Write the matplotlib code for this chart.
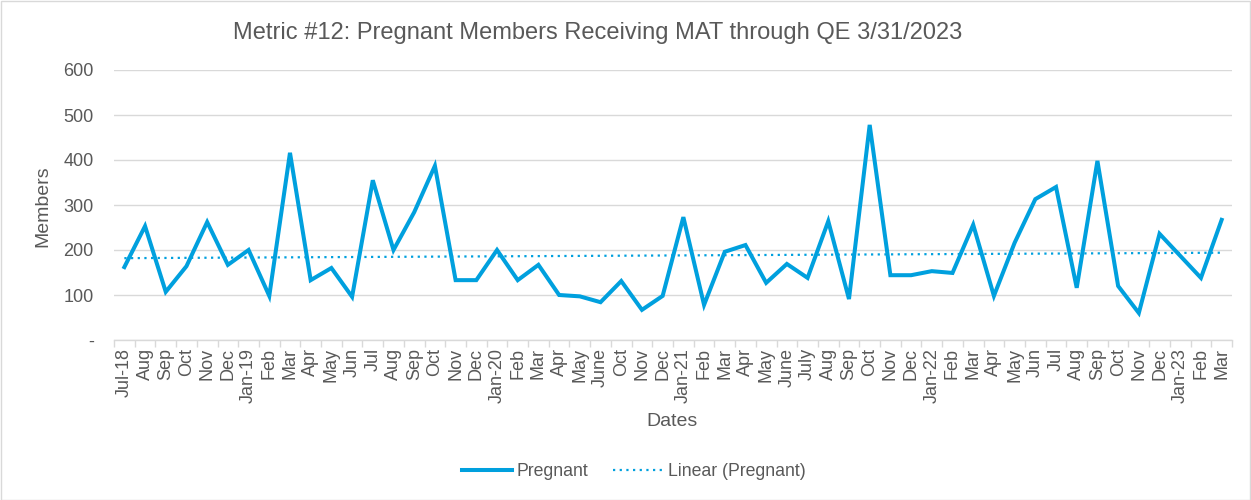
import numpy as np
import matplotlib
matplotlib.use("Agg")
import matplotlib.pyplot as plt
from matplotlib.patches import Rectangle

plt.rcParams['font.family'] = ['Liberation Sans', 'DejaVu Sans']

labels = ["Jul-18", "Aug", "Sep", "Oct", "Nov", "Dec", "Jan-19", "Feb", "Mar", "Apr",
          "May", "Jun", "Jul", "Aug", "Sep", "Oct", "Nov", "Dec", "Jan-20", "Feb",
          "Mar", "Apr", "May", "June", "Oct", "Nov", "Dec", "Jan-21", "Feb", "Mar",
          "Apr", "May", "June", "July", "Aug", "Sep", "Oct", "Nov", "Dec", "Jan-22",
          "Feb", "Mar", "Apr", "May", "Jun", "Jul", "Aug", "Sep", "Oct", "Nov",
          "Dec", "Jan-23", "Feb", "Mar"]
pregnant = [162, 253, 107, 164, 262, 167, 200, 98, 416, 133,
            160, 96, 355, 200, 284, 387, 133, 133, 200, 133,
            167, 100, 97, 84, 131, 67, 98, 273, 78, 196,
            211, 127, 169, 138, 264, 91, 478, 144, 144, 153,
            149, 256, 98, 216, 313, 340, 116, 398, 120, 60,
            236, 187, 138, 267]
yticks = [0, 100, 200, 300, 400, 500, 600]
yticklabels = ["-", "100", "200", "300", "400", "500", "600"]

W, H = 1251, 500
fig = plt.figure(figsize=(W / 100, H / 100), dpi=100)
fig.patches.append(Rectangle((0.5 / W, 0.5 / H), 1 - 1.5 / W, 1 - 1.5 / H,
                             transform=fig.transFigure, fill=False,
                             edgecolor='#D9D9D9', lw=1))

left, right, top, bottom = 114, 1232, 70, 340
ax = fig.add_axes([left / W, 1 - bottom / H, (right - left) / W, (bottom - top) / H])

n = len(pregnant)
x = np.arange(n)
color = '#00A0DE'
ax.plot(x, pregnant, color=color, lw=2.9, solid_joinstyle='miter', label='Pregnant', zorder=3)
coef = np.polyfit(x, pregnant, 1)
trend = np.polyval(coef, x)
ax.plot(x, trend, color=color, lw=1.6, linestyle=(0, (1, 2)), label='Linear (Pregnant)', zorder=2)

ax.set_xlim(-0.5, n - 0.5)
ax.set_ylim(0, 600)
ax.set_yticks(yticks)
ax.set_yticklabels(yticklabels)
ax.set_xticks(x)
ax.set_xticklabels(labels, rotation=90)
ax.set_xticks(np.arange(-0.5, n, 1), minor=True)
ax.tick_params(axis='x', which='major', length=0, pad=6, labelsize=13, labelcolor='#595959')
ax.tick_params(axis='x', which='minor', length=5, color='#D9D9D9', width=1)
ax.tick_params(axis='y', length=0, pad=14.5, labelsize=13, labelcolor='#595959')

ax.grid(axis='y', color='#D9D9D9', lw=1)
ax.set_axisbelow(True)
for s in ['top', 'right', 'left']:
    ax.spines[s].set_visible(False)
ax.spines['bottom'].set_color('#D9D9D9')
ax.spines['bottom'].set_linewidth(1)

fig.text(598 / W, 1 - 33 / H, "Metric #12: Pregnant Members Receiving MAT through QE 3/31/2023",
         ha='center', va='center', fontsize=17, color='#595959')
fig.text(43 / W, 1 - 206 / H, "Members", rotation=90, ha='center', va='center',
         fontsize=14, color='#595959')
fig.text(672 / W, 1 - 422 / H, "Dates", ha='center', va='center', fontsize=14, color='#595959')

leg = fig.legend(loc='center', bbox_to_anchor=(634 / W, 1 - 472 / H), ncol=2, frameon=False,
                 fontsize=12.7, handlelength=2.8, columnspacing=1.4, handletextpad=0.3)
for t in leg.get_texts():
    t.set_color('#595959')

fig.savefig('out.png', dpi=100)
